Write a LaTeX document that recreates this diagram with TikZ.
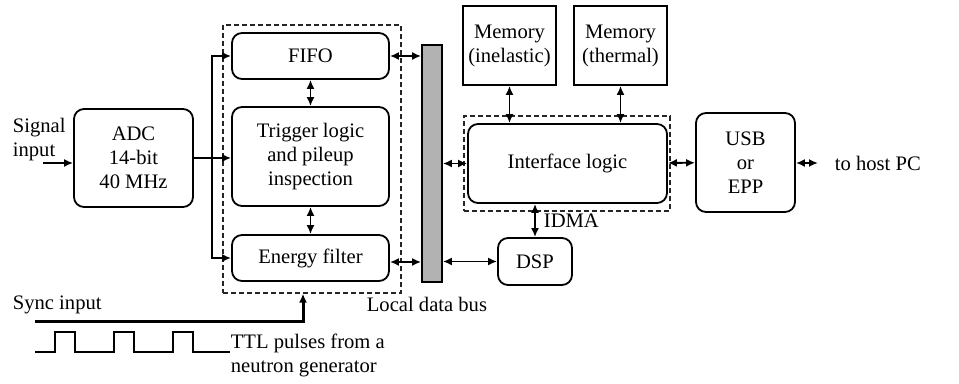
\documentclass[tikz,border=0pt]{standalone}
\usepackage{fontspec}
\setmainfont{Liberation Serif}
\usetikzlibrary{arrows.meta,positioning}

\begin{document}
\begin{tikzpicture}[x=0.5pt, y=-0.5pt, line width=0.9pt,
      >={Latex[length=4.5pt,width=4pt]},
      blk/.style = {draw, rounded corners=5pt, align=center, inner sep=1pt},
      mem/.style = {draw, align=center, inner sep=1pt},
      grp/.style = {draw, line width=0.6pt, gray!30!black, dash pattern=on 2.5pt off 1.5pt},
      every node/.style = {font=\fontsize{10.3}{12}\selectfont}] 
      \useasboundingbox (0,0) rectangle (959,384);

      % groups
      \node[grp, minimum width=89pt, minimum height=134pt] (grp1) at (312,159) {};
      \node[grp, minimum width=103pt, minimum height=47.5pt] (grp2) at (567,163.5) {};

      % blocks
      \node[blk, minimum width=59.5pt, minimum height=49pt] (adc) at (133.5,158) {ADC\\14-bit\\40 MHz};
      \node[blk, minimum width=78.5pt, minimum height=23pt] (fifo) at (310.5,56) {FIFO};
      \node[blk, minimum width=78.5pt, minimum height=49.5pt] (trig) at (310.5,156.5) {Trigger logic\\and pileup\\inspection};
      \node[blk, minimum width=78.5pt, minimum height=23pt] (energy) at (310.5,258) {Energy filter};
      \node[draw, fill=gray!60, minimum width=10pt, minimum height=118.5pt, inner sep=0pt] (bus) at (432,163.5) {};
      \node[mem, minimum width=46.5pt, minimum height=39.5pt] (meminel) at (509.5,45.5) {Memory\\(inelastic)};
      \node[mem, minimum width=46.5pt, minimum height=39.5pt] (memtherm) at (620.5,45.5) {Memory\\(thermal)};
      \node[blk, minimum width=99.5pt, minimum height=39.5pt] (iface) at (567.5,163.5) {Interface logic};
      \node[blk, minimum width=49.5pt, minimum height=49.5pt] (usb) at (745.5,162.5) {USB\\or\\EPP};
      \node[blk, minimum width=37pt, minimum height=23.5pt] (dsp) at (535,261.5) {DSP};

      % labels
      \node[anchor=west, align=left, inner sep=0pt] (sig) at (12,139.5) {Signal\\input};
      \node[anchor=west, inner sep=0pt] (sync) at (12,305) {Sync input};
      \node[anchor=west, align=left, inner sep=0pt] (ttl) at (230,355.5) {TTL pulses from a\\neutron generator};
      \node[anchor=west, inner sep=0pt] (lbus) at (366,304) {Local data bus};
      \node[anchor=west, inner sep=0pt] (host) at (834,163) {to host PC};

      \coordinate (sigin) at (43,163);
      \coordinate (split) at (212,158);
      \coordinate (syncstart) at (35,322);
      \coordinate (hostend) at (818,163);

      \draw[->] (sigin) -- (sigin -| adc.west);
      \draw[->] (adc.east) -- (adc.east -| trig.west);
      \draw[->] (split) |- (fifo.west);
      \draw[->] (split) |- (energy.west);
      \draw[<->] (fifo) -- (trig);
      \draw[<->] (trig) -- (energy);
      \draw[<->] (fifo.east) -- (fifo.east -| bus.west);
      \draw[<->] ([yshift=-2pt]energy.east) -- ([yshift=-2pt]energy.east -| bus.west);
      \draw[<->] (bus.east |- iface) -- (iface.west);
      \draw[<->] (bus.east |- dsp) -- (dsp.west);
      \draw[<->] (meminel.south) -- (meminel.south |- iface.north);
      \draw[<->] (memtherm.south) -- (memtherm.south |- iface.north);
      \draw[<->] (iface) -- (usb);
      \draw[<->] (usb.east |- hostend) -- (hostend);
      \draw[<->] (dsp.north) -- node[right, inner sep=4pt] {IDMA} (dsp.north |- iface.south);
      \draw[->, line width=1.5pt] (syncstart) -| ([xshift=-4.5pt]grp1.south);

      % pulse train
      \draw (35,352) -- (55,352) -- (55,332) -- (75,332) -- (75,352) -- (114,352) -- (114,332) -- (134,332)
            -- (134,352) -- (173,352) -- (173,332) -- (193,332) -- (193,352) -- (230,352);
    \end{tikzpicture}
\end{document}
